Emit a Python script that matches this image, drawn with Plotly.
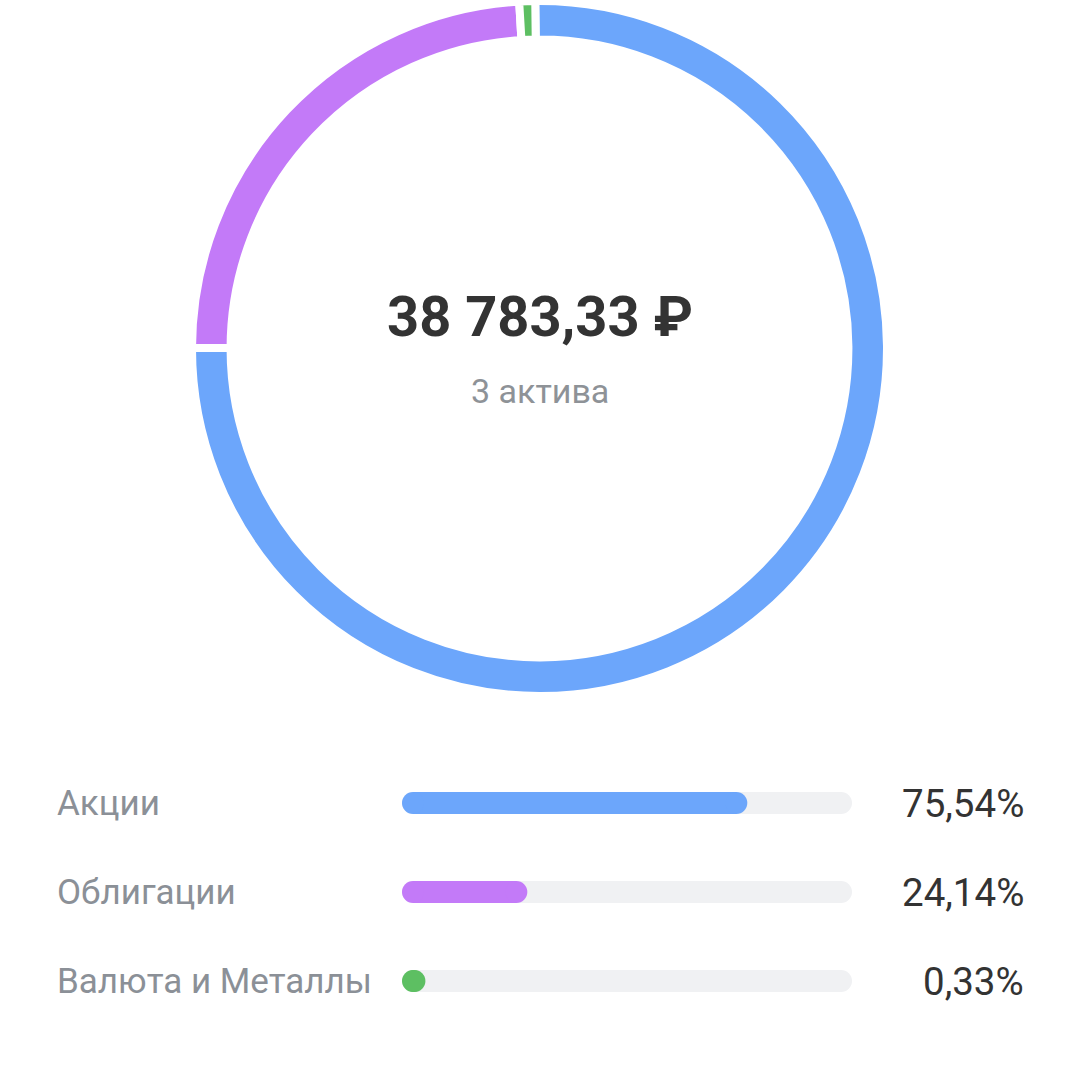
import plotly.graph_objects as go
import numpy as np

# ---- data ----
categories = ["Акции", "Облигации", "Валюта и Металлы"]
shares = [75.54, 24.14, 0.33]          # percent of portfolio
colors = ["#6ca6fb", "#c37af8", "#5dbf62"]
total_value = 38783.33
asset_count = 3
asset_word = "актива"

# minimum visible share of a ring segment (the app keeps tiny segments visible)
MIN_SEGMENT = 0.74
ring_values = list(np.maximum(np.array(shares), MIN_SEGMENT))

W = H = 1080
fig = go.Figure()

# ---- donut ----
fig.add_trace(go.Pie(
    values=ring_values,
    labels=categories,
    marker=dict(colors=colors, line=dict(color="white", width=8)),
    hole=0.889,
    sort=False,
    direction="clockwise",
    rotation=-0.7,
    textinfo="none",
    hoverinfo="label",
    showlegend=False,
    domain=dict(x=[192 / W, 887 / W], y=[1 - 696 / H, 1 - 1 / H]),
))

# ---- progress bars ----
TRACK = "#f0f1f3"
BAR_W = 22
for i, (cat, v, c) in enumerate(zip(categories, shares, colors)):
    # track
    fig.add_trace(go.Scatter(
        x=[0, 100], y=[i, i], mode="lines+markers", cliponaxis=False,
        line=dict(color=TRACK, width=BAR_W),
        marker=dict(color=TRACK, size=BAR_W, line=dict(width=0)),
        hoverinfo="skip", showlegend=False, xaxis="x", yaxis="y"))
    # fill
    fig.add_trace(go.Scatter(
        x=[0, v], y=[i, i], mode="lines+markers", cliponaxis=False,
        line=dict(color=c, width=BAR_W),
        marker=dict(color=c, size=BAR_W, line=dict(width=0)),
        hoverinfo="skip", showlegend=False, xaxis="x", yaxis="y"))

def fmt_pct(v):
    return f"{v:.2f}".replace(".", ",") + "%"

def fmt_money(v):
    s = f"{v:,.2f}"
    return s.replace(",", " ").replace(".", ",") + " ₽"

annotations = []
for i, (cat, v) in enumerate(zip(categories, shares)):
    annotations.append(dict(
        x=55 / W, xref="paper", y=i, yref="y", text=cat, showarrow=False,
        xanchor="left", yanchor="middle",
        font=dict(family="Roboto", size=35, color="#8b9097")))
    annotations.append(dict(
        x=1026 / W, xref="paper", y=i, yref="y", text=fmt_pct(v), showarrow=False,
        xanchor="right", yanchor="middle",
        font=dict(family="Roboto", size=38.5, color="#333333")))

annotations.append(dict(
    x=0.5, xref="paper", y=1 - 317 / H, yref="paper", text="<b>" + fmt_money(total_value) + "</b>",
    showarrow=False, xanchor="center", yanchor="middle",
    font=dict(family="Roboto", size=56, color="#333333")))
annotations.append(dict(
    x=0.5, xref="paper", y=1 - 391 / H, yref="paper", text=f"{asset_count} {asset_word}",
    showarrow=False, xanchor="center", yanchor="middle",
    font=dict(family="Roboto", size=34, color="#8e9297")))

fig.update_layout(
    width=W, height=H,
    margin=dict(l=0, r=0, t=0, b=0),
    paper_bgcolor="white", plot_bgcolor="white",
    xaxis=dict(domain=[413 / W, 841 / W], range=[0, 100], visible=False, fixedrange=True),
    yaxis=dict(domain=[1 - 1025.5 / H, 1 - 758.5 / H], range=[2.5, -0.5], visible=False, fixedrange=True),
    annotations=annotations,
    showlegend=False,
)

fig.write_html(
    "out.html",
    config={"displayModeBar": False},
    post_script="document.body.style.margin='0';document.body.style.overflow='hidden';",
)
